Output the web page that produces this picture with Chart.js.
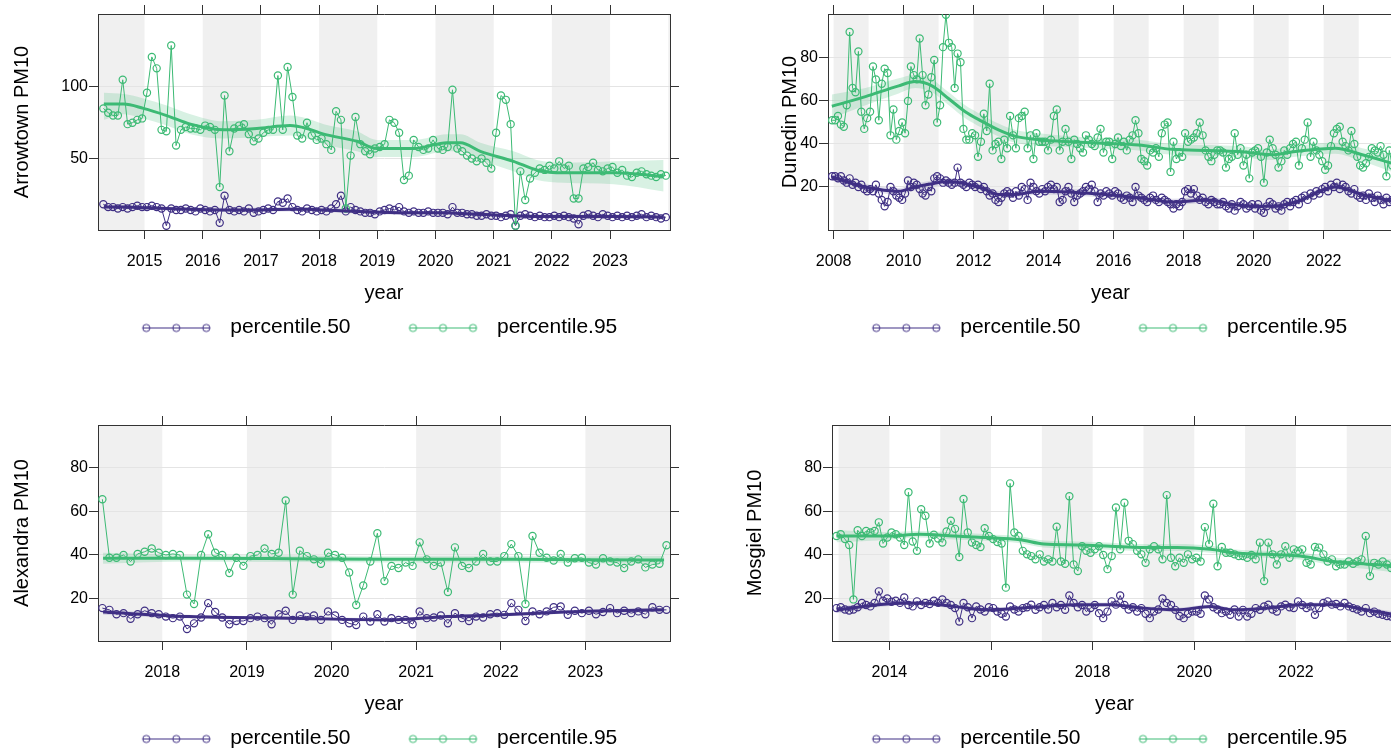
<!DOCTYPE html>
<html>
<head>
<meta charset="utf-8">
<title>PM10 percentile trends</title>
<script src="https://cdn.jsdelivr.net/npm/chart.js@4.4.1/dist/chart.umd.min.js"></script>
<style>
  html, body { margin: 0; padding: 0; background: #fff; }
  body { width: 1391px; height: 752px; overflow: hidden; position: relative; }
  canvas { position: absolute; }
</style>
</head>
<body>
<canvas id="arrowtown"></canvas>
<canvas id="dunedin"></canvas>
<canvas id="alexandra"></canvas>
<canvas id="mosgiel"></canvas>
<script>
// Monthly PM10 percentiles per site, first value = first month listed in *Start

// Arrowtown, from April 2014
const arrowStart = [2014, 4];
const arrowP50 = [
  18, 16, 16, 15, 16, 15, 16, 17, 16,
  16, 17, 16, 15, 3, 15, 14, 14, 15, 14, 13, 15,
  14, 13, 14, 5, 24, 14, 13, 14, 13, 15, 12, 13,
  14, 15, 14, 20, 19, 22, 16, 14, 13, 15, 14, 13,
  14, 13, 15, 18, 24, 13, 16, 14, 13, 12, 12, 11,
  13, 14, 15, 14, 16, 13, 12, 13, 12, 12, 13, 12,
  12, 12, 11, 16, 12, 12, 11, 11, 10, 10, 11, 10,
  10, 9, 10, 11, 3, 10, 11, 10, 9, 10, 9, 9,
  10, 9, 10, 9, 8, 4, 10, 11, 10, 9, 11, 10,
  9, 10, 9, 10, 9, 10, 11, 9, 10, 9, 8, 9
];
const arrowP95 = [
  85, 82, 80, 80, 105, 74, 75, 77, 78,
  96, 121, 113, 70, 69, 129, 59, 70, 72, 71, 71, 70,
  73, 72, 70, 30, 94, 55, 71, 73, 74, 67, 62, 64,
  68, 70, 70, 108, 70, 114, 93, 66, 64, 75, 66, 63,
  64, 60, 56, 83, 77, 15, 52, 79, 60, 55, 53, 57,
  58, 60, 77, 75, 68, 35, 38, 63, 58, 56, 57, 63,
  57, 56, 58, 98, 57, 55, 52, 50, 48, 50, 47, 43,
  68, 94, 91, 74, 3, 41, 21, 36, 40, 43, 42, 45,
  43, 48, 43, 45, 22, 22, 43, 44, 47, 42, 41, 43,
  44, 40, 42, 38, 37, 40, 41, 39, 38, 37, 39, 38
];
const arrowTrendYears = [2014.3, 2014.64, 2014.98, 2015.38, 2015.79, 2016.36, 2016.93, 2017.5, 2017.79, 2018.08, 2018.65, 2018.99, 2019.63, 2020.2, 2020.43, 2020.77, 2021.34, 2021.74, 2022.2, 2023.06, 2023.92];
const arrowTrend95 = [88, 88, 85, 80, 74, 70, 71, 73, 71, 67, 62, 57, 57, 61, 61, 55, 48, 42, 40, 40, 37.5];
const arrowHi95 = [96, 95, 92, 87, 81, 76, 77, 80, 78, 74, 69, 63, 63, 67, 67, 61, 55, 49, 47, 48, 49];
const arrowLo95 = [77, 81, 78, 73, 67, 64, 65, 66, 64, 60, 55, 51, 51, 55, 55, 49, 41, 35, 33, 32, 27];
const arrowTrend50 = [16, 16, 15.5, 15, 14.5, 14, 14, 14.5, 14.5, 14, 13, 12.5, 12, 12, 11.5, 11, 10, 9.5, 9.5, 9.5, 9];
const arrowHi50 = [18, 17.5, 17, 16.5, 16, 15.5, 15.5, 16, 16, 15.5, 14.5, 14, 13.5, 13.5, 13, 12.5, 11.5, 11, 11, 11, 11];
const arrowLo50 = [14, 14.5, 14, 13.5, 13, 12.5, 12.5, 13, 13, 12.5, 11.5, 11, 10.5, 10.5, 10, 9.5, 8.5, 8, 8, 8, 7];

// Dunedin, from December 2007
const dunStart = [2007, 12];
const dunP50 = [
  25,
  25, 24, 25, 23, 22, 24, 21, 22, 20, 21, 19, 18,
  19, 18, 21, 17, 14, 11, 13, 20, 18, 16, 15, 14,
  17, 23, 20, 22, 21, 19, 17, 16, 20, 18, 24, 25,
  24, 22, 23, 22, 21, 22, 29, 22, 21, 20, 22, 21,
  20, 21, 19, 20, 18, 16, 17, 14, 13, 15, 17, 18,
  17, 15, 18, 16, 20, 19, 14, 22, 20, 18, 17, 19,
  18, 20, 21, 19, 20, 13, 14, 18, 20, 17, 13, 16,
  17, 18, 20, 19, 21, 18, 13, 17, 16, 18, 17, 16,
  18, 17, 15, 14, 16, 15, 13, 20, 16, 15, 14, 13,
  15, 16, 14, 13, 15, 14, 13, 12, 10, 12, 11, 13,
  18, 19, 17, 19, 16, 14, 15, 13, 12, 14, 13, 12,
  12, 13, 11, 10, 12, 9, 11, 13, 12, 10, 11, 12,
  10, 12, 9, 8, 11, 13, 12, 10, 11, 9, 12, 13,
  11, 13, 14, 12, 15, 16, 14, 17, 16, 18, 17, 19,
  20, 18, 21, 20, 22, 19, 21, 20, 18, 17, 19, 16,
  15, 16, 14, 17, 15, 13, 16, 14, 12, 15, 13, 14
];
const dunP95 = [
  51,
  51, 53, 49, 48, 58, 92, 66, 64, 83, 55, 47, 52,
  55, 76, 70, 51, 68, 75, 73, 44, 56, 42, 46, 50,
  45, 60, 76, 72, 70, 89, 72, 58, 63, 71, 79, 50,
  58, 85, 100, 87, 85, 66, 82, 78, 47, 42, 42, 45,
  44, 34, 41, 54, 46, 68, 37, 40, 41, 33, 42, 38,
  53, 44, 38, 52, 53, 55, 38, 44, 33, 45, 41, 41,
  41, 37, 42, 53, 56, 37, 41, 47, 41, 33, 42, 40,
  38, 36, 44, 42, 40, 39, 43, 47, 36, 41, 41, 33,
  40, 43, 39, 41, 37, 42, 44, 51, 45, 33, 32, 30,
  37, 36, 38, 34, 45, 49, 50, 27, 41, 33, 36, 34,
  45, 41, 42, 43, 45, 50, 44, 37, 34, 32, 35, 37,
  37, 36, 29, 33, 34, 45, 35, 38, 30, 35, 24, 36,
  37, 38, 34, 22, 36, 42, 38, 35, 29, 32, 37, 35,
  38, 40, 41, 30, 38, 42, 50, 34, 41, 37, 35, 32,
  28, 30, 39, 45, 47, 48, 41, 39, 37, 46, 40, 34,
  30, 29, 31, 34, 38, 37, 36, 39, 35, 25, 37, 30
];
const dunTrendYears = [2007.95, 2008.91, 2009.86, 2010.33, 2010.81, 2011.29, 2011.76, 2012.24, 2012.71, 2013.2, 2013.86, 2014.81, 2015.76, 2016.71, 2017.67, 2018.7, 2019.57, 2020.53, 2021.19, 2022.33, 2023.1, 2023.96];
const dunTrend95 = [57.5, 62, 67, 69, 67, 61, 55, 50.5, 46.5, 43.5, 42, 41, 40.3, 39.5, 37.5, 37, 36.5, 35, 36.5, 38, 35, 31];
const dunHi95 = [63, 66, 70.5, 72, 70, 64, 58, 53.5, 49.5, 46.5, 45, 43.5, 42.8, 42, 40, 39.5, 39, 37.5, 39, 40.5, 38, 35];
const dunLo95 = [52, 58, 63.5, 66, 64, 58, 52, 47.5, 43.5, 40.5, 39, 38.5, 37.8, 37, 35, 34.5, 34, 32.5, 34, 35.5, 32, 27];
const dunTrend50 = [24.5, 20, 18, 20, 21.5, 22.5, 21.5, 19.5, 16.5, 16.5, 18, 17.5, 16.5, 15, 13, 14, 11.5, 11, 13, 20, 16.5, 13.5];
const dunHi50 = [26, 21.5, 19.5, 21.5, 23, 24, 23, 21, 18, 18, 19.5, 19, 18, 16.5, 14.5, 15.5, 13, 12.5, 14.5, 21.5, 18, 15.5];
const dunLo50 = [23, 18.5, 16.5, 18.5, 20, 21, 20, 18, 15, 15, 16.5, 16, 15, 13.5, 11.5, 12.5, 10, 9.5, 11.5, 18.5, 15, 11.5];

// Alexandra, from April 2017
const alexStart = [2017, 4];
const alexP50 = [
  15.6, 14.8, 12.8, 13.3, 10.7, 12.8, 14.4, 13.3, 12.8,
  11.7, 11, 11.7, 6, 8.6, 11.3, 17.9, 13.8, 11.3, 8.2, 9.7, 9.7,
  11, 11.7, 11, 8.2, 12.8, 14.4, 10.2, 12.2, 11.7, 12.2, 10.2, 14.1,
  12.2, 10.2, 8.6, 7.8, 11.7, 9.4, 12.8, 9.4, 11, 10.2, 10.2, 8.2,
  14.1, 11, 11.3, 12.2, 8.6, 13.3, 11, 9.7, 11.7, 11.3, 12.8, 13.3,
  12.5, 17.9, 14.8, 9.7, 14.1, 12.8, 14.1, 16, 16.4, 12.5, 14.4, 13.3,
  14.4, 12.8, 13.8, 15.6, 13.3, 14.4, 13.3, 14.1, 12.8, 16, 14.8, 14.8
];
const alexP95 = [
  65.6, 38.7, 38.7, 40, 37, 40.5, 41.5, 43, 41,
  40, 40.5, 40, 21.8, 17.5, 40, 49.5, 41, 40, 31.7, 38.7, 35,
  39.5, 40, 43, 40.5, 41, 65, 21.8, 42, 39.5, 38, 36, 41,
  40, 38.7, 32, 17, 26, 37, 50, 28, 35, 34, 36.5, 35,
  45.8, 38, 35, 36.5, 23, 43.5, 35, 34, 37, 40.5, 37, 37,
  39.5, 45, 39.5, 17.5, 48.7, 41, 38.7, 37.5, 40.5, 36.5, 38.5, 38.7,
  36.5, 35.6, 38.5, 37, 36.5, 34, 37, 38, 34.3, 35.6, 36, 44.5
];
const alexTrendYears = [2017.3, 2018.32, 2019.5, 2020.69, 2021.37, 2022.16, 2022.95, 2023.93];
const alexTrend95 = [38.5, 38.5, 38.3, 38, 38, 38, 37.8, 37.7];
const alexHi95 = [41, 40, 39.8, 39.4, 39.4, 39.4, 39.3, 39.5];
const alexLo95 = [36, 37, 36.8, 36.6, 36.6, 36.6, 36.3, 35.9];
const alexTrend50 = [13.8, 11.7, 11, 10.2, 11.7, 12.8, 14.1, 14.8];
const alexHi50 = [15, 12.6, 11.8, 11, 12.5, 13.6, 14.9, 15.8];
const alexLo50 = [12.6, 10.8, 10.2, 9.4, 10.9, 12, 13.3, 13.8];

// Mosgiel, from December 2012
const mosStart = [2012, 12];
const mosP50 = [
  15.6,
  16, 15, 14.5, 15, 16, 18, 17, 16.4, 18, 23.3, 19, 20,
  18.5, 19, 18, 20.5, 17, 16.4, 18.7, 17, 18, 17.5, 19, 18,
  19.6, 18, 17, 15.6, 9.4, 18, 16, 11, 16.4, 15, 14, 16,
  15.6, 14, 13, 11.7, 16.4, 15, 14, 15.6, 16, 17.2, 14.8, 16,
  17, 15, 18, 16, 17, 14.8, 21.4, 18, 16, 17, 14, 15.6,
  17, 13.3, 11, 14, 18.7, 17.2, 21.4, 17, 15, 16, 14, 15.6,
  13, 11, 14, 15, 20, 18, 17, 14.8, 12, 11, 13, 14,
  14, 13, 21.4, 19.6, 16, 15, 13.3, 14, 12.5, 15, 11.7, 14.8,
  11.7, 13, 15.6, 14.8, 16.4, 17.2, 15, 14, 16.4, 17.2, 16, 15.6,
  18.7, 17, 15.6, 16.4, 12.5, 15.6, 18, 18.7, 17.2, 17.5, 16.4, 18,
  16.4, 15.6, 15, 14, 15.6, 13.3, 14, 13, 12.5, 12, 11.7, 12
];
const mosP95 = [
  48.7,
  49.5, 47.3, 44.6, 19.6, 51.4, 48.7, 51, 50.3, 51, 55, 45.3, 48,
  50.3, 49.5, 48, 44.6, 68.8, 46.2, 41.9, 61, 58, 45.3, 49.3, 47.6,
  45.7, 50.8, 55.7, 52, 39.1, 65.7, 50.3, 45.7, 44.6, 43.7, 52.3, 48.7,
  47.3, 46, 45.3, 25, 72.9, 50.3, 48.7, 41.9, 40.3, 39.5, 38, 40.3,
  37, 38, 37, 53, 37, 36, 67, 35.6, 32.6, 44, 41.9, 41,
  42.6, 44, 40, 33.5, 39.5, 61.8, 42.6, 64, 46.5, 45, 41.9, 40.3,
  36.4, 42.6, 44, 42.6, 38, 67.5, 38.7, 34.8, 38.7, 36.4, 40.3, 38,
  38.7, 37, 52.8, 45, 63.5, 34.8, 43.7, 41, 41, 40.3, 39.5, 39.5,
  38.7, 40, 38, 45.7, 28, 45.7, 40.3, 35.6, 40.3, 44, 38.7, 42.6,
  41.9, 42.6, 36.4, 35.6, 43.7, 43.4, 40.3, 37, 38, 34.8, 35.6, 35.6,
  37, 36, 37, 38, 48.7, 30.3, 36.4, 35.6, 37, 35.6, 34, 33
];
const mosTrendYears = [2012.96, 2013.95, 2014.6, 2015.26, 2015.92, 2016.57, 2017.04, 2017.69, 2018.35, 2019.0, 2019.66, 2020.32, 2020.77, 2021.43, 2022.08, 2022.74, 2023.4, 2023.96];
const mosTrend95 = [48.7, 48.7, 49.5, 48.7, 48, 47, 45, 44.6, 44, 43.4, 43.4, 42.6, 41, 40.3, 39.5, 37, 35.8, 35];
const mosHi95 = [51.5, 50.5, 51, 50.3, 49.5, 48.6, 46.6, 46.2, 45.6, 45, 45, 44.2, 42.6, 41.9, 41.1, 38.8, 38, 38];
const mosLo95 = [45.9, 46.9, 48, 47.1, 46.5, 45.4, 43.4, 43, 42.4, 41.8, 41.8, 41, 39.4, 38.7, 37.9, 35.2, 33.6, 32];
const mosTrend50 = [14.8, 17.5, 18, 16.4, 14.8, 15.6, 16.4, 17.2, 17.2, 15.6, 14.8, 16.4, 14.8, 15.6, 17.2, 17.2, 14.8, 12.5];
const mosHi50 = [16.3, 18.5, 19, 17.4, 15.8, 16.6, 17.4, 18.2, 18.2, 16.6, 15.8, 17.4, 15.8, 16.6, 18.2, 18.2, 15.8, 14];
const mosLo50 = [13.3, 16.5, 17, 15.4, 13.8, 14.6, 15.4, 16.2, 16.2, 14.6, 13.8, 15.4, 13.8, 14.6, 16.2, 16.2, 13.8, 11];

// axis ticks
const arrowYearTicks = [2015, 2016, 2017, 2018, 2019, 2020, 2021, 2022, 2023];
const dunYearTicks = [2008, 2010, 2012, 2014, 2016, 2018, 2020, 2022];
const alexYearTicks = [2018, 2019, 2020, 2021, 2022, 2023];
const mosYearTicks = [2014, 2016, 2018, 2020, 2022];
const arrowValueTicks = [50, 100];
const siteValueTicks = [20, 40, 60, 80];

const seriesLabels = ['percentile.50', 'percentile.95'];

const PURPLE = '#3f2f84';
const GREEN = '#3cba74';
const AXIS = '#333';

Chart.defaults.font.family = "'Liberation Sans', Arial, Helvetica, sans-serif";
Chart.defaults.color = '#000';

// alternating grey bands, one per calendar year
const yearShading = {
  id: 'yearShading',
  beforeDraw(chart, args, opts) {
    const { ctx, chartArea: a, scales: { x } } = chart;
    ctx.save();
    ctx.beginPath();
    ctx.rect(a.left, a.top, a.right - a.left, a.bottom - a.top);
    ctx.clip();
    ctx.fillStyle = '#f0f0f0';
    for (let yr = Math.floor(x.min); yr < x.max; yr++) {
      if ((yr - opts.firstYear) % 2 !== 0) continue;
      const x0 = x.getPixelForValue(yr);
      const x1 = x.getPixelForValue(yr + 1);
      ctx.fillRect(x0, a.top, x1 - x0, a.bottom - a.top);
    }
    ctx.restore();
  }
};

// legend key: a short line with three open circles, right of a blank lead-in
function legendIcon(color) {
  const c = document.createElement('canvas');
  c.width = 126;
  c.height = 22;
  const g = c.getContext('2d');
  g.strokeStyle = color;
  g.lineWidth = 1;
  g.beginPath();
  g.moveTo(49, 11.5);
  g.lineTo(116, 11.5);
  g.stroke();
  [52.5, 82.5, 112.5].forEach(cx => {
    g.beginPath();
    g.arc(cx, 11.5, 3.6, 0, Math.PI * 2);
    g.stroke();
  });
  return c;
}

function monthly(start, values) {
  const t0 = start[0] + (start[1] - 1) / 12;
  return values.map((v, i) => ({ x: t0 + (i + 0.5) / 12, y: v }));
}

function curve(years, values) {
  return years.map((t, i) => ({ x: t, y: values[i] }));
}

function drawPanel(id, p) {
  const canvas = document.getElementById(id);
  canvas.width = p.w;
  canvas.height = 360;
  canvas.style.left = p.left + 'px';
  canvas.style.top = p.top + 'px';

  const trendLine = (data, color) => ({
    data, borderColor: color, borderWidth: 3, pointRadius: 0,
    cubicInterpolationMode: 'monotone', fill: false
  });
  const points = (data, color) => ({
    data, borderColor: color, borderWidth: 1, tension: 0,
    pointRadius: 3.6, pointBorderWidth: 1.2, pointBorderColor: color,
    pointBackgroundColor: 'rgba(0,0,0,0)', fill: false
  });
  const band = (data, fillColor, fill) => ({
    data, borderColor: 'rgba(0,0,0,0)', borderWidth: 0, pointRadius: 0,
    cubicInterpolationMode: 'monotone', backgroundColor: fillColor, fill
  });

  const xTickSet = s => { s.ticks = p.xTicks.map(v => ({ value: v })); };
  const yTickSet = s => { s.ticks = p.yTicks.map(v => ({ value: v })); };
  const tickGrid = { drawOnChartArea: false, tickLength: 9, tickColor: AXIS, lineWidth: 1 };
  const border = { display: true, color: AXIS, width: 1 };

  new Chart(canvas, {
    type: 'line',
    data: {
      datasets: [
        trendLine(curve(p.trendYears, p.trend95), GREEN),
        trendLine(curve(p.trendYears, p.trend50), PURPLE),
        points(monthly(p.start, p.p95), GREEN),
        points(monthly(p.start, p.p50), PURPLE),
        band(curve(p.trendYears, p.hi95), 'rgba(60,186,116,0.2)', '+1'),
        band(curve(p.trendYears, p.lo95), 'rgba(0,0,0,0)', false),
        band(curve(p.trendYears, p.hi50), 'rgba(63,47,132,0.15)', '+1'),
        band(curve(p.trendYears, p.lo50), 'rgba(0,0,0,0)', false)
      ]
    },
    options: {
      responsive: false,
      animation: false,
      devicePixelRatio: 1,
      events: [],
      layout: { padding: { left: 0, right: 0, top: 0, bottom: 12 } },
      scales: {
        x: {
          type: 'linear', position: 'bottom', min: p.xMin, max: p.xMax,
          afterBuildTicks: xTickSet,
          afterFit: s => { s.height = 77; },
          grid: tickGrid,
          border,
          ticks: { padding: 13, color: '#000', font: { size: 16 }, maxRotation: 0, autoSkip: false, callback: v => String(v) },
          title: { display: true, text: 'year', color: '#000', font: { size: 20 }, padding: { top: 0, bottom: 2 } }
        },
        x2: {
          type: 'linear', position: 'top', min: p.xMin, max: p.xMax,
          afterBuildTicks: xTickSet,
          afterFit: s => { s.height = 14; },
          grid: tickGrid,
          border,
          ticks: { display: false }
        },
        y: {
          type: 'linear', position: 'left', min: p.yMin, max: p.yMax,
          afterBuildTicks: yTickSet,
          afterFit: s => { s.width = p.yWidth; },
          grid: { color: '#e4e4e4', tickColor: AXIS, tickLength: 9, lineWidth: 1 },
          border,
          ticks: { padding: 1, color: '#000', font: { size: 16 }, callback: v => String(v) },
          title: { display: true, text: p.yTitle, color: '#000', font: { size: 20 }, padding: { top: p.titlePad, bottom: 0 } }
        },
        y2: {
          type: 'linear', position: 'right', min: p.yMin, max: p.yMax,
          afterBuildTicks: yTickSet,
          afterFit: s => { s.width = p.y2Width; },
          grid: tickGrid,
          border,
          ticks: { display: false }
        }
      },
      plugins: {
        yearShading: { firstYear: p.firstShaded },
        tooltip: { enabled: false },
        legend: {
          display: true,
          position: 'bottom',
          labels: {
            usePointStyle: true,
            pointStyleWidth: 126,
            padding: 10,
            color: '#000',
            font: { size: 21 },
            generateLabels: () => [
              { text: seriesLabels[0], pointStyle: legendIcon(PURPLE), fillStyle: PURPLE, strokeStyle: PURPLE, lineWidth: 1, fontColor: '#000', hidden: false, datasetIndex: 3 },
              { text: seriesLabels[1], pointStyle: legendIcon(GREEN), fillStyle: GREEN, strokeStyle: GREEN, lineWidth: 1, fontColor: '#000', hidden: false, datasetIndex: 2 }
            ]
          }
        }
      }
    },
    plugins: [yearShading]
  });
}

drawPanel('arrowtown', {
  left: 0, top: 0, w: 711, yWidth: 98, y2Width: 41, titlePad: 10,
  xMin: 2014.2, xMax: 2024.03, yMin: 0, yMax: 151, firstShaded: 2014,
  xTicks: arrowYearTicks, yTicks: arrowValueTicks, yTitle: 'Arrowtown PM10',
  start: arrowStart, p50: arrowP50, p95: arrowP95,
  trendYears: arrowTrendYears, trend95: arrowTrend95, hi95: arrowHi95, lo95: arrowLo95,
  trend50: arrowTrend50, hi50: arrowHi50, lo50: arrowLo50
});

drawPanel('dunedin', {
  left: 729, top: 0, w: 713, yWidth: 99, y2Width: 49, titlePad: 49,
  xMin: 2007.84, xMax: 2023.98, yMin: 0, yMax: 100.4, firstShaded: 2008,
  xTicks: dunYearTicks, yTicks: siteValueTicks, yTitle: 'Dunedin PM10',
  start: dunStart, p50: dunP50, p95: dunP95,
  trendYears: dunTrendYears, trend95: dunTrend95, hi95: dunHi95, lo95: dunLo95,
  trend50: dunTrend50, hi50: dunHi50, lo50: dunLo50
});

drawPanel('alexandra', {
  left: 0, top: 411, w: 711, yWidth: 98, y2Width: 41, titlePad: 10,
  xMin: 2017.24, xMax: 2024.0, yMin: 0.5, yMax: 99.7, firstShaded: 2017,
  xTicks: alexYearTicks, yTicks: siteValueTicks, yTitle: 'Alexandra PM10',
  start: alexStart, p50: alexP50, p95: alexP95,
  trendYears: alexTrendYears, trend95: alexTrend95, hi95: alexHi95, lo95: alexLo95,
  trend50: alexTrend50, hi50: alexHi50, lo50: alexLo50
});

drawPanel('mosgiel', {
  left: 729, top: 411, w: 713, yWidth: 103, y2Width: 45, titlePad: 14,
  xMin: 2012.87, xMax: 2023.99, yMin: 0.5, yMax: 99.7, firstShaded: 2013,
  xTicks: mosYearTicks, yTicks: siteValueTicks, yTitle: 'Mosgiel PM10',
  start: mosStart, p50: mosP50, p95: mosP95,
  trendYears: mosTrendYears, trend95: mosTrend95, hi95: mosHi95, lo95: mosLo95,
  trend50: mosTrend50, hi50: mosHi50, lo50: mosLo50
});
</script>
</body>
</html>
